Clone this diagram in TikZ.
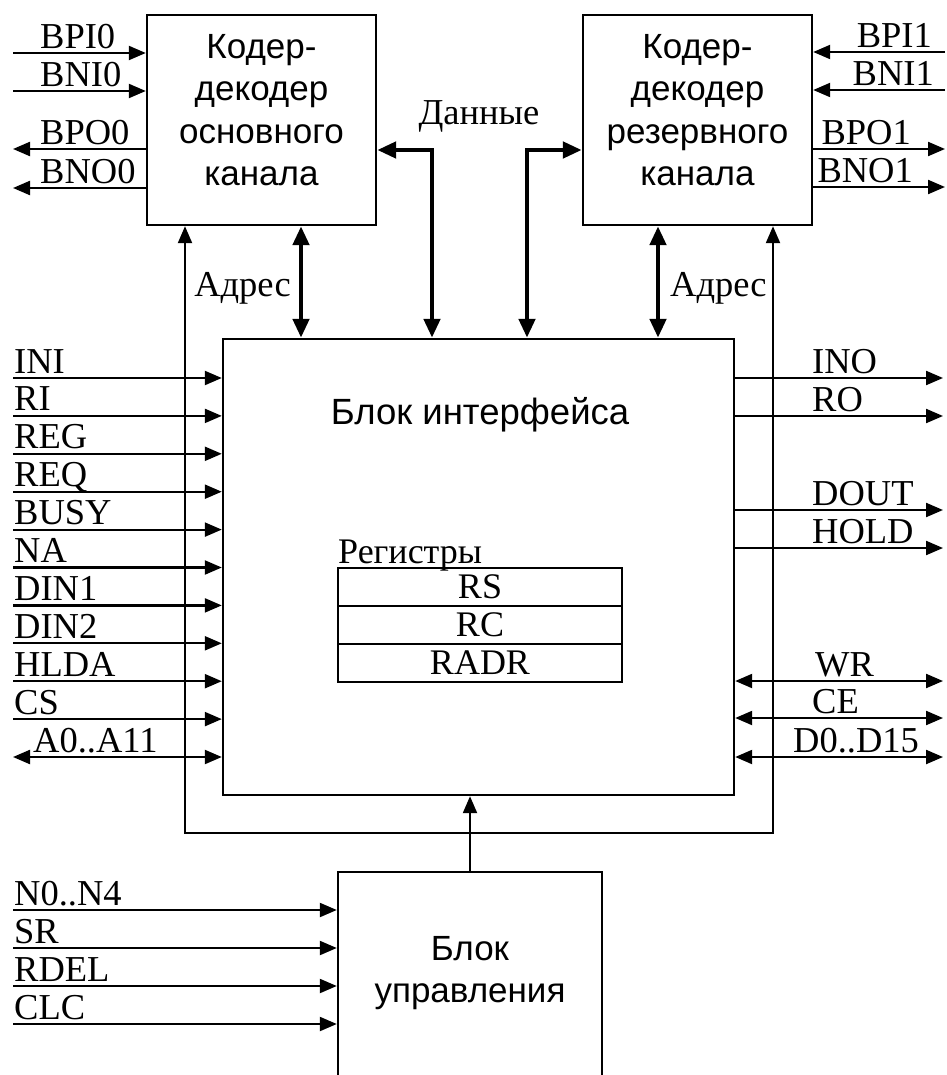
\documentclass[tikz,border=0pt]{standalone}
\usepackage{fontspec}
\setmainfont{Liberation Serif}
\setsansfont{Liberation Sans}
\usetikzlibrary{arrows.meta,positioning,calc}

\newcommand{\sigfont}{\rmfamily\fontsize{36.5}{40}\selectfont}
\newcommand{\blkfont}{\sffamily\fontsize{35}{42.5}\selectfont}

\tikzset{
  Tri/.tip={Triangle[length=17pt,width=14pt]},
  BTri/.tip={Triangle[length=19pt,width=16pt]},
  blk/.style={draw,line width=2.4pt,inner sep=0pt},
  blktxt/.style={font=\blkfont,align=center,inner sep=0pt},
  reg/.style={draw,line width=2.2pt,inner sep=0pt,outer sep=0pt,minimum width=284pt,minimum height=38pt,font=\rmfamily\fontsize{36}{38}\selectfont},
  sig/.style={line width=2.2pt,-Tri},
  sigr/.style={line width=2.2pt,Tri-},
  sigb/.style={line width=2.2pt,Tri-Tri},
  bus/.style={line width=4.6pt,BTri-BTri},
  sigtxt/.style={font=\sigfont,inner sep=0pt,anchor=base west}
}

\begin{document}
\begin{tikzpicture}[x=1pt,y=-1pt]
\path[use as bounding box,fill=white] (0,0) rectangle (946,1075);

% blocks
\node[blk,minimum width=229pt,minimum height=210pt] (cod0) at (261.5,120) {};
\node[blktxt] (cod0tt) at (261.5,110) {Кодер-\\декодер\\основного\\канала};
\node[blk,minimum width=229pt,minimum height=210pt] (cod1) at (697.5,120) {};
\node[blktxt] (cod1tt) at (697.5,110) {Кодер-\\декодер\\резервного\\канала};
\node[blk,minimum width=511pt,minimum height=456pt] (iface) at (478.5,567) {};
\node[font=\sffamily\fontsize{36.5}{40}\selectfont,inner sep=0pt,anchor=base] (ifacett) at (480,424) {Блок интерфейса};
\node[blk,minimum width=264pt,minimum height=213pt] (ctl) at (470,978.5) {};
\node[blktxt] (ctltt) at (470,973) {Блок\\управления};

% registers
\node[sigtxt,font=\rmfamily\fontsize{36}{38}\selectfont] (regtt) at (338,563) {Регистры};
\node[reg] (rs) at (480,587) {RS};
\node[reg,below=0pt of rs] (rc) {RC};
\node[reg,below=0pt of rc] (radr) {RADR};

% coder signals
\foreach \t/\yy/\st in {BPI0/53/sig,BNI0/91/sig,BPO0/149/sigr,BNO0/188/sigr}{
  \coordinate (c0\t) at (13,\yy);
  \draw[\st] (c0\t) -- (c0\t -| cod0.west);
  \node[sigtxt] (t0\t) at (40,\yy-4) {\t};
}
\foreach \t/\yy/\st/\lx in {BPI1/52/sig/932,BNI1/90/sig/934,BPO1/149/sigr/911,BNO1/187/sigr/913}{
  \coordinate (c1\t) at (945,\yy);
  \draw[\st] (c1\t) -- (c1\t -| cod1.east);
  \node[sigtxt,anchor=base east] (t1\t) at (\lx,\yy-4) {\t};
}

% interface signals
\foreach \t/\lx/\st [count=\i] in {INI/14/sig,RI/14/sig,REG/14/sig,REQ/14/sig,BUSY/14/sig,NA/14/sig,DIN1/14/sig,DIN2/14/sig,HLDA/14/sig,CS/14/sig,A0..A11/33/sigb}{
  \coordinate (il\i) at (13,{378+37.9*(\i-1)});
  \draw[\st] (il\i) -- (il\i -| iface.west);
  \node[sigtxt] (til\i) at (\lx,{373+37.9*(\i-1)}) {\t};
}
\foreach \t/\yy/\lx/\st [count=\i] in {INO/378/812/sigr,RO/416/812/sigr,DOUT/510/812/sigr,HOLD/548/812/sigr,WR/681/815/sigb,CE/718/812/sigb,D0..D15/757/793/sigb}{
  \coordinate (ir\i) at (943,\yy);
  \draw[\st] (ir\i) -- (ir\i -| iface.east);
  \node[sigtxt] (tir\i) at (\lx,\yy-5) {\t};
}

% control signals
\foreach \t/\yy [count=\i] in {N0..N4/910,SR/948,RDEL/986,CLC/1024}{
  \coordinate (cl\i) at (13,\yy);
  \draw[sig] (cl\i) -- (cl\i -| ctl.west);
  \node[sigtxt] (tcl\i) at (14,\yy-5) {\t};
}

\coordinate (fbl) at (185,833);
\coordinate (fbr) at (773,833);
\draw[sigb] (fbl |- cod0.south) -- (fbl) -- (fbr) -- (fbr |- cod1.south);
\draw[sig] (ctl.north) -- (ctl.north |- iface.south);

% buses
\coordinate (adr0) at (301,280);
\coordinate (adr1) at (658,280);
\draw[bus] (adr0 |- cod0.south) -- (adr0 |- iface.north);
\draw[bus] (adr1 |- cod1.south) -- (adr1 |- iface.north);
\node[sigtxt,anchor=base east] (tadr0) at (291,296) {Адрес};
\node[sigtxt] (tadr1) at (670,296) {Адрес};

\coordinate (dat0) at (432,150);
\coordinate (dat1) at (527,150);
\draw[bus] (dat0 -| cod0.east) -- (dat0) -- (dat0 |- iface.north);
\draw[bus] (dat1 -| cod1.west) -- (dat1) -- (dat1 |- iface.north);
\node[sigtxt,anchor=base] (tdat) at (479,125) {Данные};

\end{tikzpicture}
\end{document}
